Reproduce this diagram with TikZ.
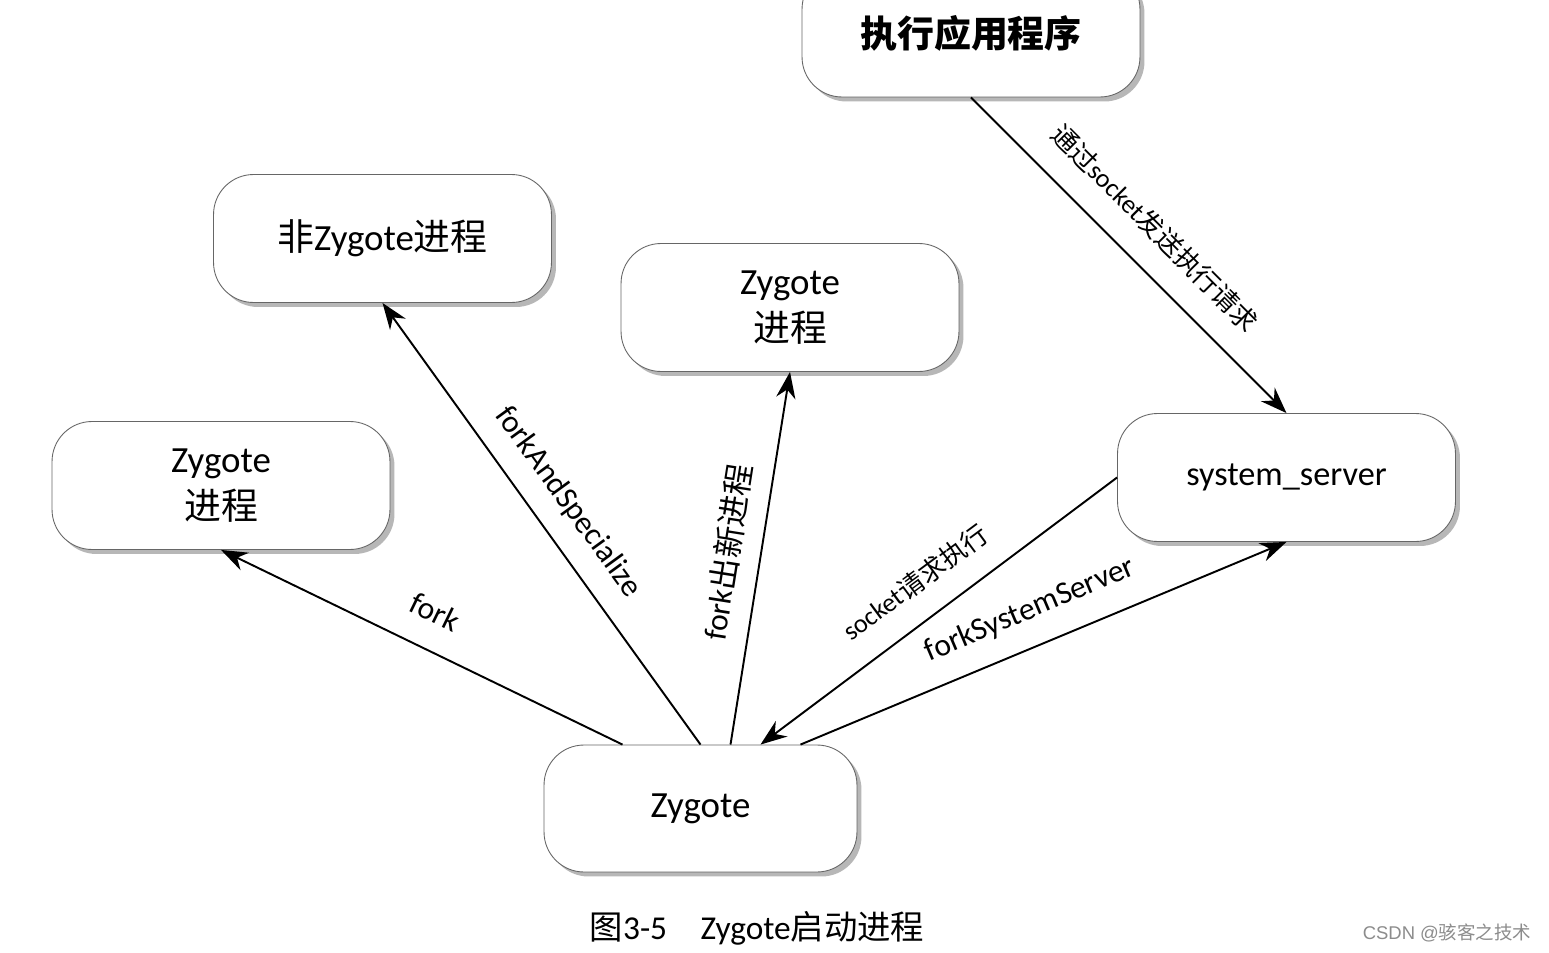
\documentclass[tikz,border=0pt]{standalone}
\usepackage{fontspec}
\setmainfont{Carlito}
\newfontfamily\cjk{Noto Sans CJK SC}
\newfontfamily\wmfont{Liberation Sans}
\usetikzlibrary{arrows.meta,shadows}
\begin{document}
\begin{tikzpicture}[x=0.02cm,y=-0.02cm,
 box/.style={draw=black!60, line width=0.5pt, fill=white, rounded corners=0.8cm,
   minimum width=6.76cm, minimum height=2.56cm, inner sep=0pt, align=center,
   font=\fontsize{21}{27}\selectfont,
   drop shadow={shadow xshift=0.09cm, shadow yshift=-0.09cm, fill=black!35, opacity=0.8}},
 arr/.style={line width=1.1pt, -{Stealth[length=15pt,width=11pt]}},
 lab/.style={inner sep=0pt, font=\fontsize{18}{18}\selectfont},
 slab/.style={inner sep=0pt, font=\fontsize{15}{15}\selectfont},
]
\useasboundingbox (0,0) rectangle (1549,953);
\clip (0,0) rectangle (1549,953);
\fill[white] (0,0) rectangle (1549,953);

\node[box] (exec) at (971,33) {\bfseries{\cjk\bfseries 执行应用程序}};
\node[box] (fz) at (382.5,238.5) {{\cjk 非}Zygote{\cjk 进程}};
\node[box] (mz) at (790,307.5) {Zygote\\{\cjk 进程}};
\node[box] (lz) at (221,485.5) {Zygote\\{\cjk 进程}};
\node[box, font=\fontsize{19.5}{24}\selectfont] (ss) at (1286.5,477.5) {system\_server};
\node[box, minimum width=6.26cm, minimum height=2.54cm] (zy) at (700.5,808.5) {Zygote};

\draw[arr] ([xshift=-1.56cm]zy.north) -- (lz.south);
\draw[arr] (zy.north) -- (fz.south);
\draw[arr] ([xshift=0.6cm]zy.north) -- (mz.south);
\draw[arr] (ss.west) -- ([xshift=1.2cm]zy.north);
\draw[arr] ([xshift=2cm]zy.north) -- (ss.south);
\draw[arr] (exec.south) -- (ss.north);

\node[lab, rotate=-26] (l1) at (435,612) {fork};
\node[lab, rotate=-54] (l2) at (568,502) {forkAndSpecialize};
\node[lab, rotate=81] (l3) at (727,552) {fork{\cjk 出新进程}};
\node[slab, rotate=-45] (l4) at (1155,228) {{\cjk 通过}socket{\cjk 发送执行请求}};
\node[slab, rotate=36.5] (l5) at (915,582) {socket{\cjk 请求执行}};
\node[lab, rotate=23] (l6) at (1030,610) {forkSystemServer};

\node[font=\fontsize{19}{19}\selectfont, inner sep=0pt] (cap) at (757,928)
  {{\cjk 图}3-5\quad Zygote{\cjk 启动进程}};
\node[font=\wmfont\fontsize{10.5}{10.5}\selectfont, text=black!45, inner sep=0pt] (wm)
  at (1447,933) {CSDN @{\cjk 骇客之技术}};
\end{tikzpicture}
\end{document}
